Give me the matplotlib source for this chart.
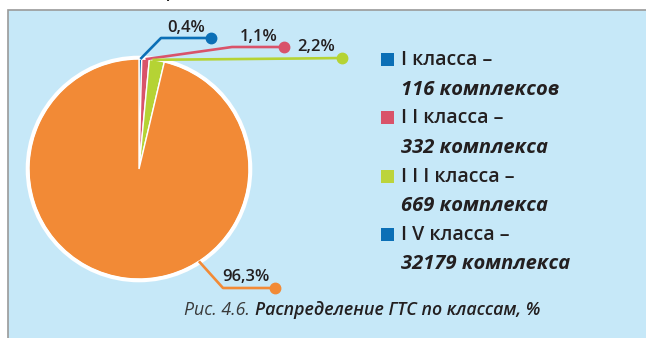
import matplotlib
matplotlib.use("Agg")
import matplotlib.pyplot as plt
from matplotlib.patches import Rectangle, Circle
import numpy as np

# Доли ГТС по классам, %
shares = [0.4, 1.1, 2.2, 96.3]
share_labels = ["0,4%", "1,1%", "2,2%", "96,3%"]
slice_colors = ["#0b6fb6", "#d9536a", "#b5d334", "#f28a36"]

# Подписи легенды
legend_head = ["I класса –", "I I класса –", "I I I класса –", "I V класса –"]
legend_tail = ["116 комплексов", "332 комплекса", "669 комплекса", "32179 комплекса"]
legend_colors = ["#0b6fb6", "#d9536a", "#bcd43c", "#0b6fb6"]

caption_num = "Рис. 4.6. "
caption_text = "Распределение ГТС по классам, %"

W, H = 646, 338
FONT = "Open Sans"
TXT = "#231f20"


def Y(y):
    # пиксели сверху вниз -> координаты осей
    return H - y


fig = plt.figure(figsize=(W / 100, H / 100), dpi=100)
ax = fig.add_axes([0, 0, 1, 1])

# фон рамки
ax.add_patch(Rectangle((8, -5), W, Y(10) + 5, facecolor="#c6e8f8",
                       edgecolor="#9a9a9a", linewidth=1.2, zorder=0))

# кусочек строки над рамкой
ax.text(172, Y(-4), "р", fontsize=16, family="DejaVu Serif", style="italic",
        ha="center", va="baseline", color="#222222")

cx, cy, r = 139, Y(169), 110
wedges, _ = ax.pie(shares, colors=slice_colors, startangle=90, counterclock=False,
                   center=(cx, cy), radius=r, frame=True,
                   wedgeprops=dict(edgecolor="white", linewidth=1.0))
ax.add_patch(Circle((cx, cy), r + 1.5, facecolor="none", edgecolor="white",
                    linewidth=2.6, zorder=5))

# выноски: угол на круге, излом, конец с точкой, позиция подписи
anchor_ang = [None, None, None, -57]
elbows = [(161, 38), (232, 47), (300, 58.5), (223, 288)]
ends = [(211, 38), (284, 47), (342, 58), (275, 288)]
label_pos = [(186, 28), (259, 37), (316, 47), (246, 277)]

for i, w in enumerate(wedges):
    ang = anchor_ang[i]
    if ang is None:
        ang = (w.theta1 + w.theta2) / 2
    if i == 2:
        ang = w.theta1 + 0.8 * (w.theta2 - w.theta1)
    a = np.deg2rad(ang)
    x0, y0 = cx + r * np.cos(a), cy + r * np.sin(a)
    xs = [x0, elbows[i][0], ends[i][0]]
    ys = [y0, Y(elbows[i][1]), Y(ends[i][1])]
    ax.plot(xs, ys, color=slice_colors[i], linewidth=1.9,
            solid_capstyle="butt", zorder=6)
    ax.plot(ends[i][0], Y(ends[i][1]), "o", color=slice_colors[i],
            markersize=7.5, zorder=7)
    ax.text(label_pos[i][0], Y(label_pos[i][1]), share_labels[i],
            fontsize=12, family=FONT, weight="semibold", color=TXT,
            ha="center", va="center", zorder=8)

# легенда
rows_head = [59, 117, 176, 234]
rows_tail = [90, 148, 206, 264]
for i in range(len(legend_head)):
    ax.add_patch(Rectangle((381, Y(rows_head[i]) - 6.5), 13, 13,
                           facecolor=legend_colors[i], edgecolor="none"))
    ax.text(401, Y(rows_head[i] + 1), legend_head[i], fontsize=14, family=FONT,
            weight="semibold", color=TXT, ha="left", va="center")
    ax.text(401, Y(rows_tail[i]), legend_tail[i], fontsize=14.5, family=FONT,
            weight="bold", style="italic", color=TXT, ha="left", va="center")

# подпись рисунка
t1 = ax.text(0, 0, caption_num, fontsize=12.8, family=FONT, style="italic",
             color="#3a3a3a", ha="left", va="center")
t2 = ax.text(0, 0, caption_text, fontsize=12.8, family=FONT, style="italic",
             weight="semibold", color=TXT, ha="left", va="center")
fig.canvas.draw()
rend = fig.canvas.get_renderer()
w1 = t1.get_window_extent(rend).width
w2 = t2.get_window_extent(rend).width
x_start = 362 - (w1 + w2) / 2
t1.set_position((x_start, Y(310)))
t2.set_position((x_start + w1, Y(310)))

ax.set_xlim(0, W)
ax.set_ylim(0, H)
ax.set_aspect("auto")
ax.axis("off")

fig.savefig("out.png", dpi=100)
